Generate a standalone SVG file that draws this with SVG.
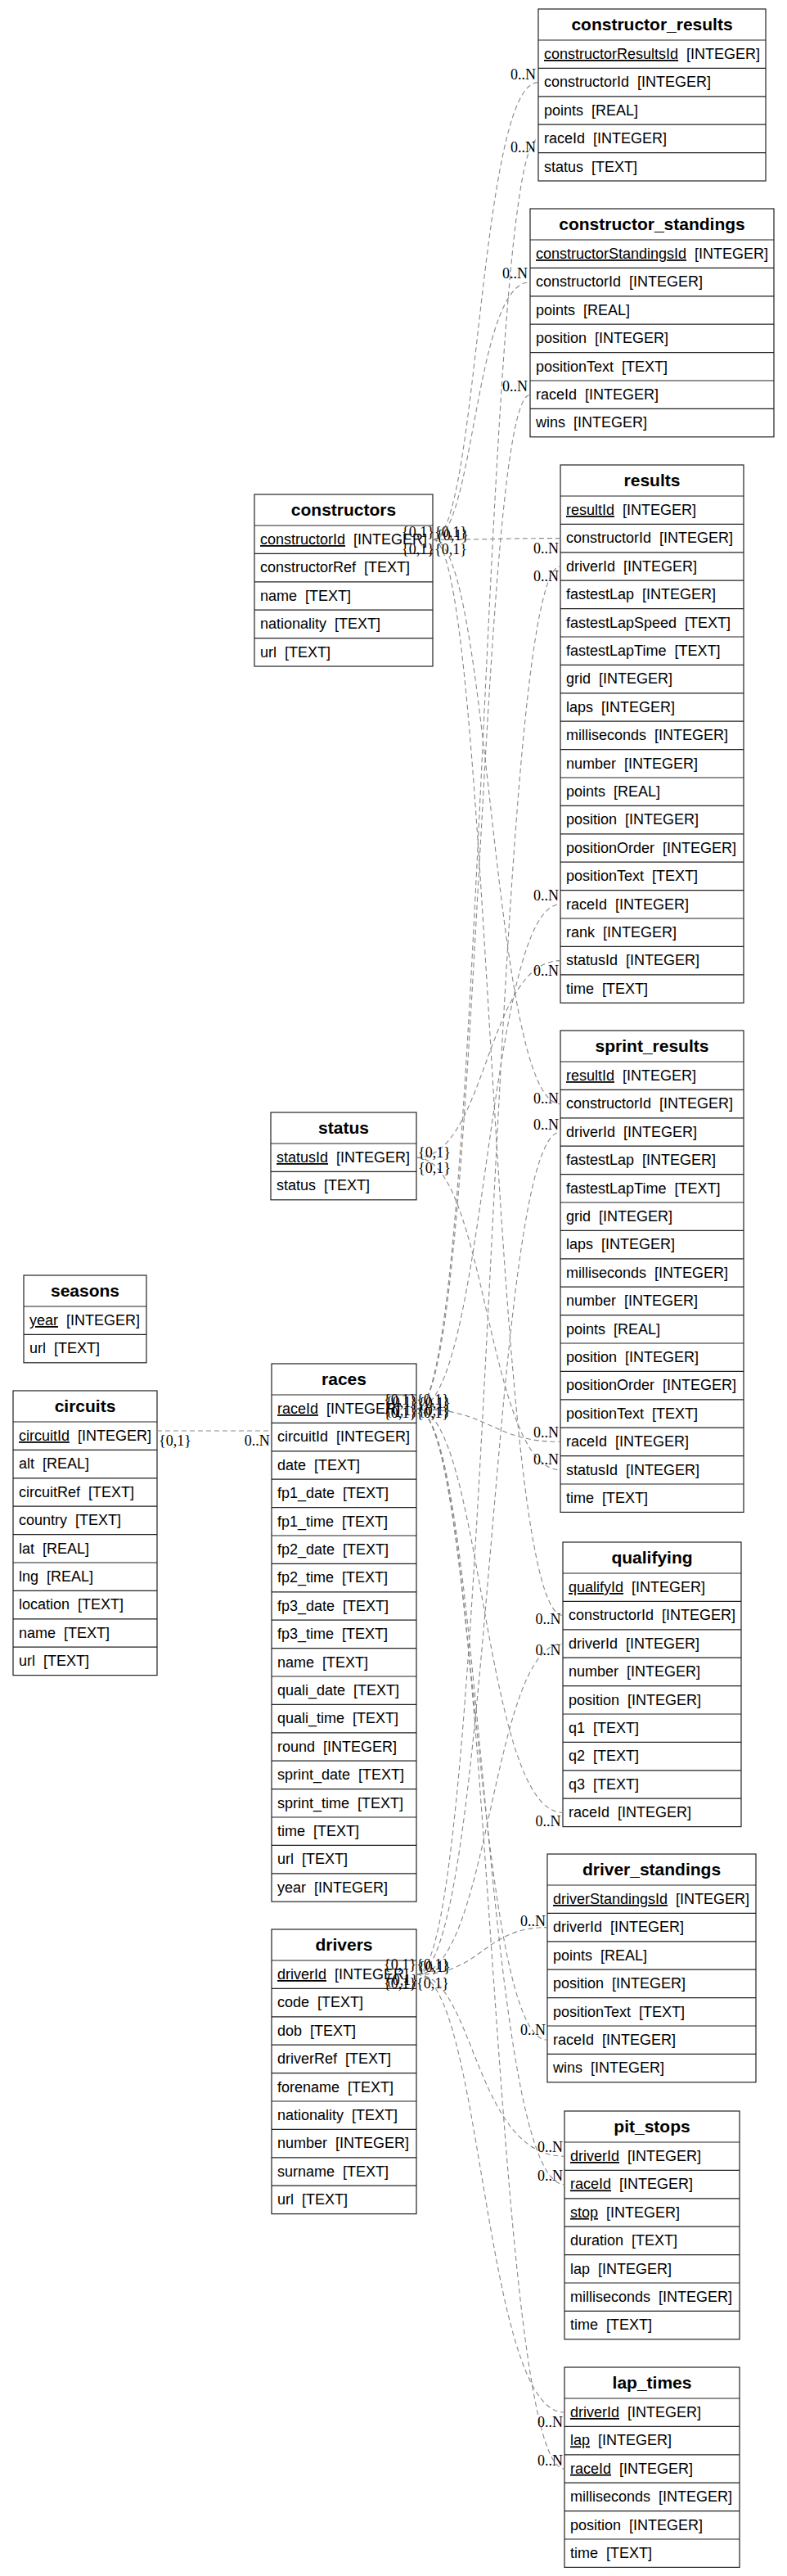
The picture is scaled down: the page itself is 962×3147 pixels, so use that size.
<svg xmlns="http://www.w3.org/2000/svg" width="962" height="3147" viewBox="0 0 962 3147">
<style>
.box{fill:#fff;stroke:#222;stroke-width:1.2}
.sep{fill:none;stroke:#222;stroke-width:1.2}
.f{font-family:"Liberation Sans",Arial,sans-serif;font-size:18px;fill:#000}
.t{font-family:"Liberation Sans",Arial,sans-serif;font-size:21px;font-weight:bold;fill:#000;text-anchor:middle}
.e{fill:none;stroke:#888;stroke-width:1.1;stroke-dasharray:6,4}
.l{font-family:"Liberation Serif","Times New Roman",serif;font-size:18px;fill:#000}
.n{text-anchor:end}
</style>
<rect width="962" height="3147" fill="#fff"/>

<g id="constructor_results" transform="translate(658,11)">
<rect class="box" width="278" height="210"/>
<path class="sep" d="M0,38H278M0,72.4H278M0,106.8H278M0,141.2H278M0,175.6H278"/>
<text class="t" x="139" y="26">constructor_results</text>
<text class="f" x="7" y="61"><tspan text-decoration="underline">constructorResultsId</tspan>&#160; [INTEGER]</text>
<text class="f" x="7" y="95.4">constructorId&#160; [INTEGER]</text>
<text class="f" x="7" y="129.8">points&#160; [REAL]</text>
<text class="f" x="7" y="164.2">raceId&#160; [INTEGER]</text>
<text class="f" x="7" y="198.6">status&#160; [TEXT]</text>
</g>

<g id="constructor_standings" transform="translate(648,255)">
<rect class="box" width="298" height="278.8"/>
<path class="sep" d="M0,38H298M0,72.4H298M0,106.8H298M0,141.2H298M0,175.6H298M0,210H298M0,244.4H298"/>
<text class="t" x="149" y="26">constructor_standings</text>
<text class="f" x="7" y="61"><tspan text-decoration="underline">constructorStandingsId</tspan>&#160; [INTEGER]</text>
<text class="f" x="7" y="95.4">constructorId&#160; [INTEGER]</text>
<text class="f" x="7" y="129.8">points&#160; [REAL]</text>
<text class="f" x="7" y="164.2">position&#160; [INTEGER]</text>
<text class="f" x="7" y="198.6">positionText&#160; [TEXT]</text>
<text class="f" x="7" y="233">raceId&#160; [INTEGER]</text>
<text class="f" x="7" y="267.4">wins&#160; [INTEGER]</text>
</g>

<g id="constructors" transform="translate(311,604)">
<rect class="box" width="218" height="210"/>
<path class="sep" d="M0,38H218M0,72.4H218M0,106.8H218M0,141.2H218M0,175.6H218"/>
<text class="t" x="109" y="26">constructors</text>
<text class="f" x="7" y="61"><tspan text-decoration="underline">constructorId</tspan>&#160; [INTEGER]</text>
<text class="f" x="7" y="95.4">constructorRef&#160; [TEXT]</text>
<text class="f" x="7" y="129.8">name&#160; [TEXT]</text>
<text class="f" x="7" y="164.2">nationality&#160; [TEXT]</text>
<text class="f" x="7" y="198.6">url&#160; [TEXT]</text>
</g>

<g id="results" transform="translate(685,568)">
<rect class="box" width="224" height="657.2"/>
<path class="sep" d="M0,38H224M0,72.4H224M0,106.8H224M0,141.2H224M0,175.6H224M0,210H224M0,244.4H224M0,278.8H224M0,313.2H224M0,347.6H224M0,382H224M0,416.4H224M0,450.8H224M0,485.2H224M0,519.6H224M0,554H224M0,588.4H224M0,622.8H224"/>
<text class="t" x="112" y="26">results</text>
<text class="f" x="7" y="61"><tspan text-decoration="underline">resultId</tspan>&#160; [INTEGER]</text>
<text class="f" x="7" y="95.4">constructorId&#160; [INTEGER]</text>
<text class="f" x="7" y="129.8">driverId&#160; [INTEGER]</text>
<text class="f" x="7" y="164.2">fastestLap&#160; [INTEGER]</text>
<text class="f" x="7" y="198.6">fastestLapSpeed&#160; [TEXT]</text>
<text class="f" x="7" y="233">fastestLapTime&#160; [TEXT]</text>
<text class="f" x="7" y="267.4">grid&#160; [INTEGER]</text>
<text class="f" x="7" y="301.8">laps&#160; [INTEGER]</text>
<text class="f" x="7" y="336.2">milliseconds&#160; [INTEGER]</text>
<text class="f" x="7" y="370.6">number&#160; [INTEGER]</text>
<text class="f" x="7" y="405">points&#160; [REAL]</text>
<text class="f" x="7" y="439.4">position&#160; [INTEGER]</text>
<text class="f" x="7" y="473.8">positionOrder&#160; [INTEGER]</text>
<text class="f" x="7" y="508.2">positionText&#160; [TEXT]</text>
<text class="f" x="7" y="542.6">raceId&#160; [INTEGER]</text>
<text class="f" x="7" y="577">rank&#160; [INTEGER]</text>
<text class="f" x="7" y="611.4">statusId&#160; [INTEGER]</text>
<text class="f" x="7" y="645.8">time&#160; [TEXT]</text>
</g>

<g id="sprint_results" transform="translate(685,1259)">
<rect class="box" width="224" height="588.4"/>
<path class="sep" d="M0,38H224M0,72.4H224M0,106.8H224M0,141.2H224M0,175.6H224M0,210H224M0,244.4H224M0,278.8H224M0,313.2H224M0,347.6H224M0,382H224M0,416.4H224M0,450.8H224M0,485.2H224M0,519.6H224M0,554H224"/>
<text class="t" x="112" y="26">sprint_results</text>
<text class="f" x="7" y="61"><tspan text-decoration="underline">resultId</tspan>&#160; [INTEGER]</text>
<text class="f" x="7" y="95.4">constructorId&#160; [INTEGER]</text>
<text class="f" x="7" y="129.8">driverId&#160; [INTEGER]</text>
<text class="f" x="7" y="164.2">fastestLap&#160; [INTEGER]</text>
<text class="f" x="7" y="198.6">fastestLapTime&#160; [TEXT]</text>
<text class="f" x="7" y="233">grid&#160; [INTEGER]</text>
<text class="f" x="7" y="267.4">laps&#160; [INTEGER]</text>
<text class="f" x="7" y="301.8">milliseconds&#160; [INTEGER]</text>
<text class="f" x="7" y="336.2">number&#160; [INTEGER]</text>
<text class="f" x="7" y="370.6">points&#160; [REAL]</text>
<text class="f" x="7" y="405">position&#160; [INTEGER]</text>
<text class="f" x="7" y="439.4">positionOrder&#160; [INTEGER]</text>
<text class="f" x="7" y="473.8">positionText&#160; [TEXT]</text>
<text class="f" x="7" y="508.2">raceId&#160; [INTEGER]</text>
<text class="f" x="7" y="542.6">statusId&#160; [INTEGER]</text>
<text class="f" x="7" y="577">time&#160; [TEXT]</text>
</g>

<g id="status" transform="translate(331,1359)">
<rect class="box" width="178" height="106.8"/>
<path class="sep" d="M0,38H178M0,72.4H178"/>
<text class="t" x="89" y="26">status</text>
<text class="f" x="7" y="61"><tspan text-decoration="underline">statusId</tspan>&#160; [INTEGER]</text>
<text class="f" x="7" y="95.4">status&#160; [TEXT]</text>
</g>

<g id="seasons" transform="translate(29,1558)">
<rect class="box" width="150" height="106.8"/>
<path class="sep" d="M0,38H150M0,72.4H150"/>
<text class="t" x="75" y="26">seasons</text>
<text class="f" x="7" y="61"><tspan text-decoration="underline">year</tspan>&#160; [INTEGER]</text>
<text class="f" x="7" y="95.4">url&#160; [TEXT]</text>
</g>

<g id="circuits" transform="translate(16,1699)">
<rect class="box" width="176" height="347.6"/>
<path class="sep" d="M0,38H176M0,72.4H176M0,106.8H176M0,141.2H176M0,175.6H176M0,210H176M0,244.4H176M0,278.8H176M0,313.2H176"/>
<text class="t" x="88" y="26">circuits</text>
<text class="f" x="7" y="61"><tspan text-decoration="underline">circuitId</tspan>&#160; [INTEGER]</text>
<text class="f" x="7" y="95.4">alt&#160; [REAL]</text>
<text class="f" x="7" y="129.8">circuitRef&#160; [TEXT]</text>
<text class="f" x="7" y="164.2">country&#160; [TEXT]</text>
<text class="f" x="7" y="198.6">lat&#160; [REAL]</text>
<text class="f" x="7" y="233">lng&#160; [REAL]</text>
<text class="f" x="7" y="267.4">location&#160; [TEXT]</text>
<text class="f" x="7" y="301.8">name&#160; [TEXT]</text>
<text class="f" x="7" y="336.2">url&#160; [TEXT]</text>
</g>

<g id="races" transform="translate(332,1666)">
<rect class="box" width="177" height="657.2"/>
<path class="sep" d="M0,38H177M0,72.4H177M0,106.8H177M0,141.2H177M0,175.6H177M0,210H177M0,244.4H177M0,278.8H177M0,313.2H177M0,347.6H177M0,382H177M0,416.4H177M0,450.8H177M0,485.2H177M0,519.6H177M0,554H177M0,588.4H177M0,622.8H177"/>
<text class="t" x="88.5" y="26">races</text>
<text class="f" x="7" y="61"><tspan text-decoration="underline">raceId</tspan>&#160; [INTEGER]</text>
<text class="f" x="7" y="95.4">circuitId&#160; [INTEGER]</text>
<text class="f" x="7" y="129.8">date&#160; [TEXT]</text>
<text class="f" x="7" y="164.2">fp1_date&#160; [TEXT]</text>
<text class="f" x="7" y="198.6">fp1_time&#160; [TEXT]</text>
<text class="f" x="7" y="233">fp2_date&#160; [TEXT]</text>
<text class="f" x="7" y="267.4">fp2_time&#160; [TEXT]</text>
<text class="f" x="7" y="301.8">fp3_date&#160; [TEXT]</text>
<text class="f" x="7" y="336.2">fp3_time&#160; [TEXT]</text>
<text class="f" x="7" y="370.6">name&#160; [TEXT]</text>
<text class="f" x="7" y="405">quali_date&#160; [TEXT]</text>
<text class="f" x="7" y="439.4">quali_time&#160; [TEXT]</text>
<text class="f" x="7" y="473.8">round&#160; [INTEGER]</text>
<text class="f" x="7" y="508.2">sprint_date&#160; [TEXT]</text>
<text class="f" x="7" y="542.6">sprint_time&#160; [TEXT]</text>
<text class="f" x="7" y="577">time&#160; [TEXT]</text>
<text class="f" x="7" y="611.4">url&#160; [TEXT]</text>
<text class="f" x="7" y="645.8">year&#160; [INTEGER]</text>
</g>

<g id="qualifying" transform="translate(688,1884)">
<rect class="box" width="218" height="347.6"/>
<path class="sep" d="M0,38H218M0,72.4H218M0,106.8H218M0,141.2H218M0,175.6H218M0,210H218M0,244.4H218M0,278.8H218M0,313.2H218"/>
<text class="t" x="109" y="26">qualifying</text>
<text class="f" x="7" y="61"><tspan text-decoration="underline">qualifyId</tspan>&#160; [INTEGER]</text>
<text class="f" x="7" y="95.4">constructorId&#160; [INTEGER]</text>
<text class="f" x="7" y="129.8">driverId&#160; [INTEGER]</text>
<text class="f" x="7" y="164.2">number&#160; [INTEGER]</text>
<text class="f" x="7" y="198.6">position&#160; [INTEGER]</text>
<text class="f" x="7" y="233">q1&#160; [TEXT]</text>
<text class="f" x="7" y="267.4">q2&#160; [TEXT]</text>
<text class="f" x="7" y="301.8">q3&#160; [TEXT]</text>
<text class="f" x="7" y="336.2">raceId&#160; [INTEGER]</text>
</g>

<g id="driver_standings" transform="translate(669,2265)">
<rect class="box" width="255" height="278.8"/>
<path class="sep" d="M0,38H255M0,72.4H255M0,106.8H255M0,141.2H255M0,175.6H255M0,210H255M0,244.4H255"/>
<text class="t" x="127.5" y="26">driver_standings</text>
<text class="f" x="7" y="61"><tspan text-decoration="underline">driverStandingsId</tspan>&#160; [INTEGER]</text>
<text class="f" x="7" y="95.4">driverId&#160; [INTEGER]</text>
<text class="f" x="7" y="129.8">points&#160; [REAL]</text>
<text class="f" x="7" y="164.2">position&#160; [INTEGER]</text>
<text class="f" x="7" y="198.6">positionText&#160; [TEXT]</text>
<text class="f" x="7" y="233">raceId&#160; [INTEGER]</text>
<text class="f" x="7" y="267.4">wins&#160; [INTEGER]</text>
</g>

<g id="drivers" transform="translate(332,2357)">
<rect class="box" width="177" height="347.6"/>
<path class="sep" d="M0,38H177M0,72.4H177M0,106.8H177M0,141.2H177M0,175.6H177M0,210H177M0,244.4H177M0,278.8H177M0,313.2H177"/>
<text class="t" x="88.5" y="26">drivers</text>
<text class="f" x="7" y="61"><tspan text-decoration="underline">driverId</tspan>&#160; [INTEGER]</text>
<text class="f" x="7" y="95.4">code&#160; [TEXT]</text>
<text class="f" x="7" y="129.8">dob&#160; [TEXT]</text>
<text class="f" x="7" y="164.2">driverRef&#160; [TEXT]</text>
<text class="f" x="7" y="198.6">forename&#160; [TEXT]</text>
<text class="f" x="7" y="233">nationality&#160; [TEXT]</text>
<text class="f" x="7" y="267.4">number&#160; [INTEGER]</text>
<text class="f" x="7" y="301.8">surname&#160; [TEXT]</text>
<text class="f" x="7" y="336.2">url&#160; [TEXT]</text>
</g>

<g id="pit_stops" transform="translate(690,2579)">
<rect class="box" width="214" height="278.8"/>
<path class="sep" d="M0,38H214M0,72.4H214M0,106.8H214M0,141.2H214M0,175.6H214M0,210H214M0,244.4H214"/>
<text class="t" x="107" y="26">pit_stops</text>
<text class="f" x="7" y="61"><tspan text-decoration="underline">driverId</tspan>&#160; [INTEGER]</text>
<text class="f" x="7" y="95.4"><tspan text-decoration="underline">raceId</tspan>&#160; [INTEGER]</text>
<text class="f" x="7" y="129.8"><tspan text-decoration="underline">stop</tspan>&#160; [INTEGER]</text>
<text class="f" x="7" y="164.2">duration&#160; [TEXT]</text>
<text class="f" x="7" y="198.6">lap&#160; [INTEGER]</text>
<text class="f" x="7" y="233">milliseconds&#160; [INTEGER]</text>
<text class="f" x="7" y="267.4">time&#160; [TEXT]</text>
</g>

<g id="lap_times" transform="translate(690,2892)">
<rect class="box" width="214" height="244.4"/>
<path class="sep" d="M0,38H214M0,72.4H214M0,106.8H214M0,141.2H214M0,175.6H214M0,210H214"/>
<text class="t" x="107" y="26">lap_times</text>
<text class="f" x="7" y="61"><tspan text-decoration="underline">driverId</tspan>&#160; [INTEGER]</text>
<text class="f" x="7" y="95.4"><tspan text-decoration="underline">lap</tspan>&#160; [INTEGER]</text>
<text class="f" x="7" y="129.8"><tspan text-decoration="underline">raceId</tspan>&#160; [INTEGER]</text>
<text class="f" x="7" y="164.2">milliseconds&#160; [INTEGER]</text>
<text class="f" x="7" y="198.6">position&#160; [INTEGER]</text>
<text class="f" x="7" y="233">time&#160; [TEXT]</text>
</g>

<g id="connectors">
<path class="e" d="M529,659.2 C585,659.2 585,100.6 658,100.6"/>
<path class="e" d="M529,659.2 C580,659.2 580,344.6 648,344.6"/>
<path class="e" d="M529,659.2 C600,659.2 610,657.6 685,657.6"/>
<path class="e" d="M529,659.2 C600,659.2 600,1348.6 685,1348.6"/>
<path class="e" d="M529,659.2 C600,659.2 600,1973.6 688,1973.6"/>
<path class="e" d="M509,1721.2 C590,1721.2 590,169.4 658,169.4"/>
<path class="e" d="M509,1721.2 C585,1721.2 585,482.2 648,482.2"/>
<path class="e" d="M509,1721.2 C595,1721.2 595,1104.8 685,1104.8"/>
<path class="e" d="M509,1721.2 C600,1721.2 600,1761.4 685,1761.4"/>
<path class="e" d="M509,1721.2 C590,1721.2 590,2214.4 688,2214.4"/>
<path class="e" d="M509,1721.2 C580,1721.2 580,2492.2 669,2492.2"/>
<path class="e" d="M509,1721.2 C590,1721.2 590,2668.6 690,2668.6"/>
<path class="e" d="M509,1721.2 C600,1721.2 600,3016 690,3016"/>
<path class="e" d="M509,2412.2 C600,2412.2 600,692 685,692"/>
<path class="e" d="M509,2412.2 C600,2412.2 600,1383 685,1383"/>
<path class="e" d="M509,2412.2 C600,2412.2 600,2008 688,2008"/>
<path class="e" d="M509,2412.2 C590,2412.2 590,2354.6 669,2354.6"/>
<path class="e" d="M509,2412.2 C580,2412.2 580,2634.2 690,2634.2"/>
<path class="e" d="M509,2412.2 C590,2412.2 590,2947.2 690,2947.2"/>
<path class="e" d="M509,1414.2 C595,1414.2 595,1173.6 685,1173.6"/>
<path class="e" d="M509,1414.2 C595,1414.2 595,1795.8 685,1795.8"/>
<path class="e" d="M192,1748 L332,1748"/>
<g class="l n">
<text x="655" y="97">0..N</text>
<text x="655" y="186">0..N</text>
<text x="645" y="340">0..N</text>
<text x="645" y="478">0..N</text>
<text x="683" y="676">0..N</text>
<text x="683" y="710">0..N</text>
<text x="683" y="1100">0..N</text>
<text x="683" y="1192">0..N</text>
<text x="683" y="1348">0..N</text>
<text x="683" y="1380">0..N</text>
<text x="683" y="1756">0..N</text>
<text x="683" y="1789">0..N</text>
<text x="685.5" y="1984">0..N</text>
<text x="685.5" y="2022">0..N</text>
<text x="685.5" y="2231">0..N</text>
<text x="667" y="2353">0..N</text>
<text x="667" y="2486">0..N</text>
<text x="688" y="2629">0..N</text>
<text x="688" y="2664">0..N</text>
<text x="688" y="2965">0..N</text>
<text x="688" y="3012">0..N</text>
<text x="329.7" y="1766">0..N</text>
</g>
<g class="l">
<text x="491" y="655.5">{0,1}</text>
<text x="531" y="655.5">{0,1}</text>
<text x="533" y="660">{0,1}</text>
<text x="491" y="676.5">{0,1}</text>
<text x="531" y="676.5">{0,1}</text>
<text x="469" y="1716">{0,1}</text>
<text x="471" y="1719">{0,1}</text>
<text x="509" y="1716">{0,1}</text>
<text x="511" y="1720">{0,1}</text>
<text x="469" y="1732">{0,1}</text>
<text x="471" y="1729">{0,1}</text>
<text x="509" y="1732">{0,1}</text>
<text x="511" y="1729">{0,1}</text>
<text x="469" y="2405.5">{0,1}</text>
<text x="509" y="2405.5">{0,1}</text>
<text x="511" y="2409">{0,1}</text>
<text x="469" y="2428.5">{0,1}</text>
<text x="471" y="2425">{0,1}</text>
<text x="509" y="2428.5">{0,1}</text>
<text x="511" y="1413.5">{0,1}</text>
<text x="511" y="1432.5">{0,1}</text>
<text x="194" y="1765.5">{0,1}</text>
</g>
</g>
</svg>
